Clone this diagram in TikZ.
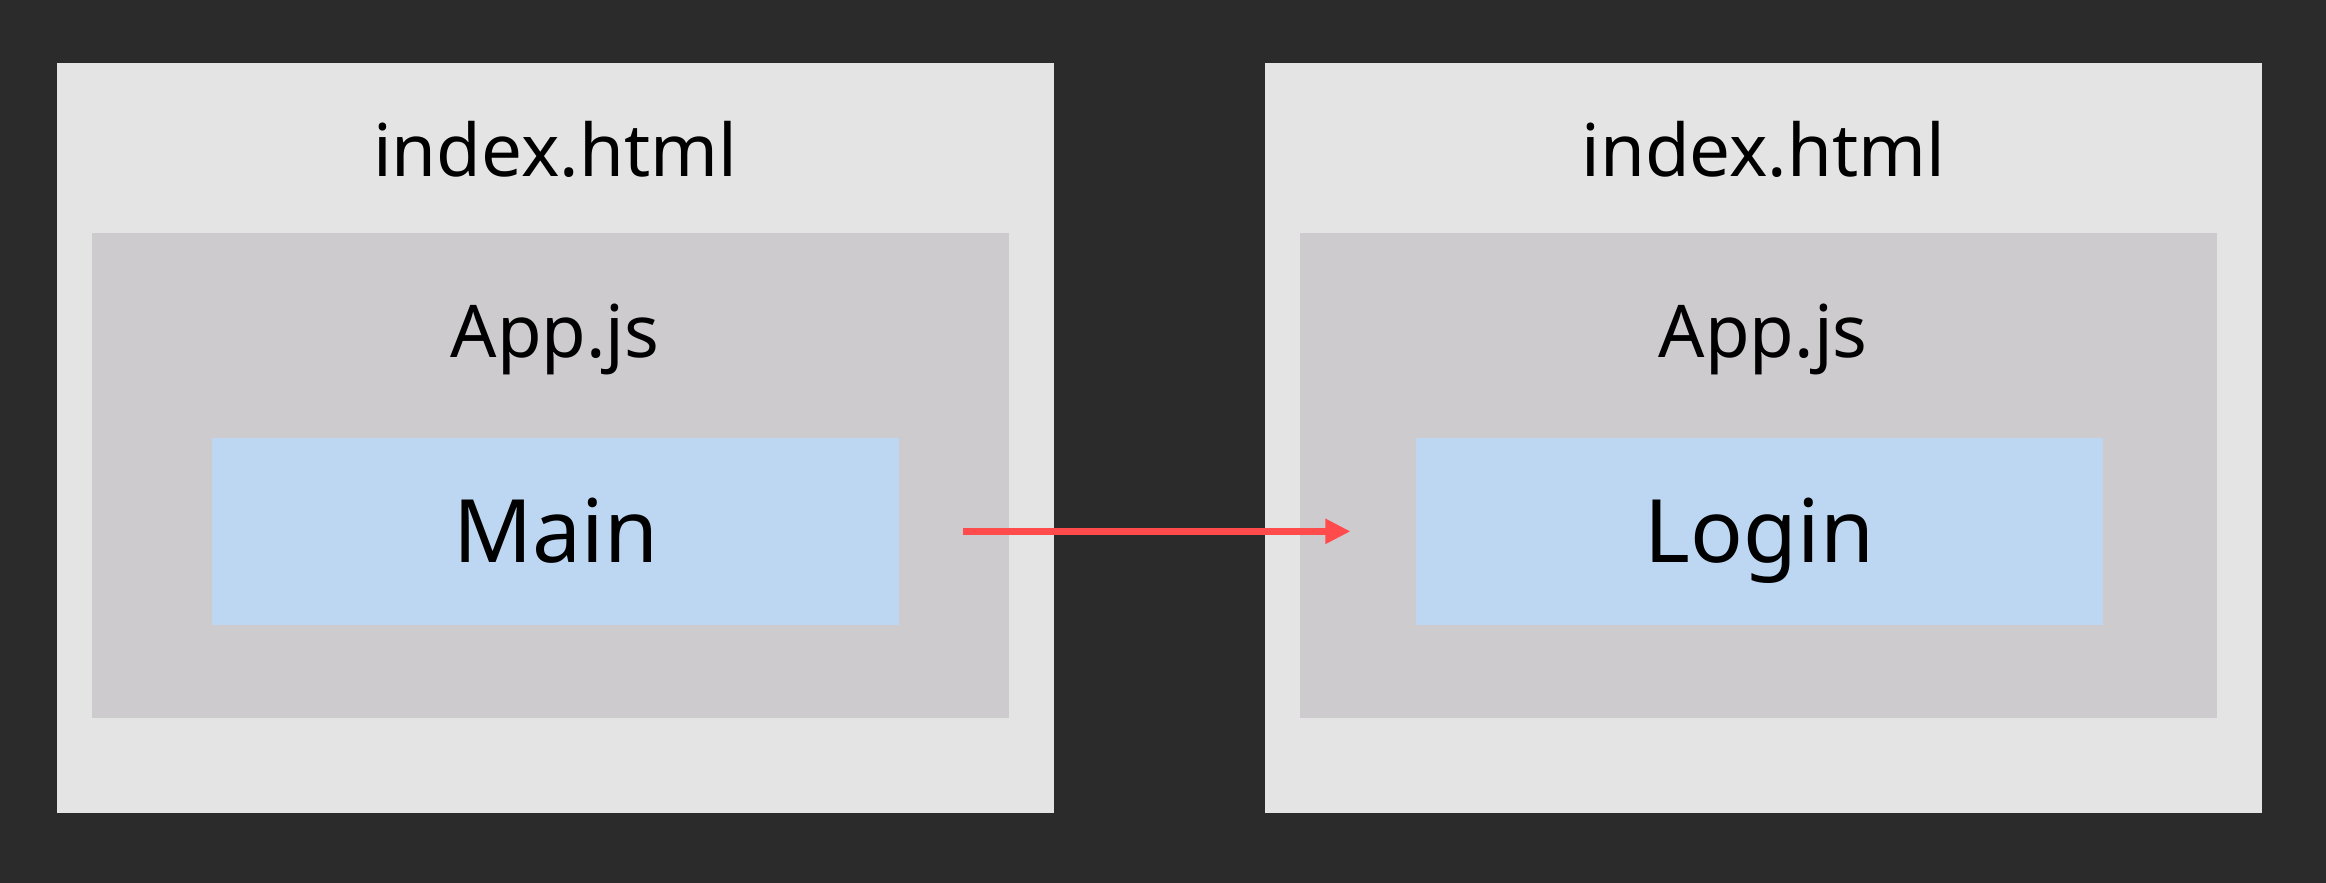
\documentclass[tikz,border=0pt]{standalone}
\usepackage{fontspec}
\setmainfont{Noto Sans}
\usepackage{xcolor}
\usepackage{tikz}
\usetikzlibrary{arrows.meta,positioning}

\definecolor{bgdark}{HTML}{2B2B2B}
\definecolor{pagegray}{HTML}{E4E4E4}
\definecolor{appgray}{HTML}{CDCBCE}
\definecolor{compblue}{HTML}{BDD7F2}
\definecolor{linkred}{HTML}{FF4B4B}

\begin{document}
\begin{tikzpicture}[
    x=1pt, y=1pt,
    page/.style={rectangle, fill=pagegray, inner sep=0pt, minimum width=672pt, minimum height=506pt},
    app/.style={rectangle, fill=appgray, inner sep=0pt, minimum width=618pt, minimum height=327pt},
    comp/.style={rectangle, fill=compblue, inner sep=0pt, minimum width=463pt, minimum height=126pt,
                 text depth=0pt, text height=42pt, font=\fontsize{59}{70}\selectfont},
    title/.style={anchor=base, inner sep=0pt, font=\fontsize{49}{58}\selectfont},
    link/.style={-{Triangle[length=17pt, width=16pt]}, draw=linkred, line width=4.9pt}
  ]

  \fill[bgdark] (0,0) rectangle (1568,595);
  \useasboundingbox (0,0) rectangle (1568,595);

  \node[page, anchor=north west] (page1) at (38,553) {};
  \node[page, right=142pt of page1] (page2) {};

  \node[title, yshift=-77pt] (html1) at (page1.north) {index.html};
  \node[title, yshift=-77pt] (html2) at (page2.north) {index.html};

  \node[app, below right=115pt and 24pt of page1.north west] (app1) {};
  \node[app, below right=115pt and 24pt of page2.north west] (app2) {};

  \node[title, yshift=-84pt, xshift=3pt] (appjs1) at (app1.north) {App.js};
  \node[title, yshift=-84pt, xshift=3pt] (appjs2) at (app2.north) {App.js};

  \node[comp, below right=138pt and 81pt of app1.north west] (main) {Main};
  \node[comp, below right=138pt and 78pt of app2.north west] (login) {Login};

  \draw[link, shorten <=43pt, shorten >=44pt] (main.east) -- (login.west);

\end{tikzpicture}
\end{document}
